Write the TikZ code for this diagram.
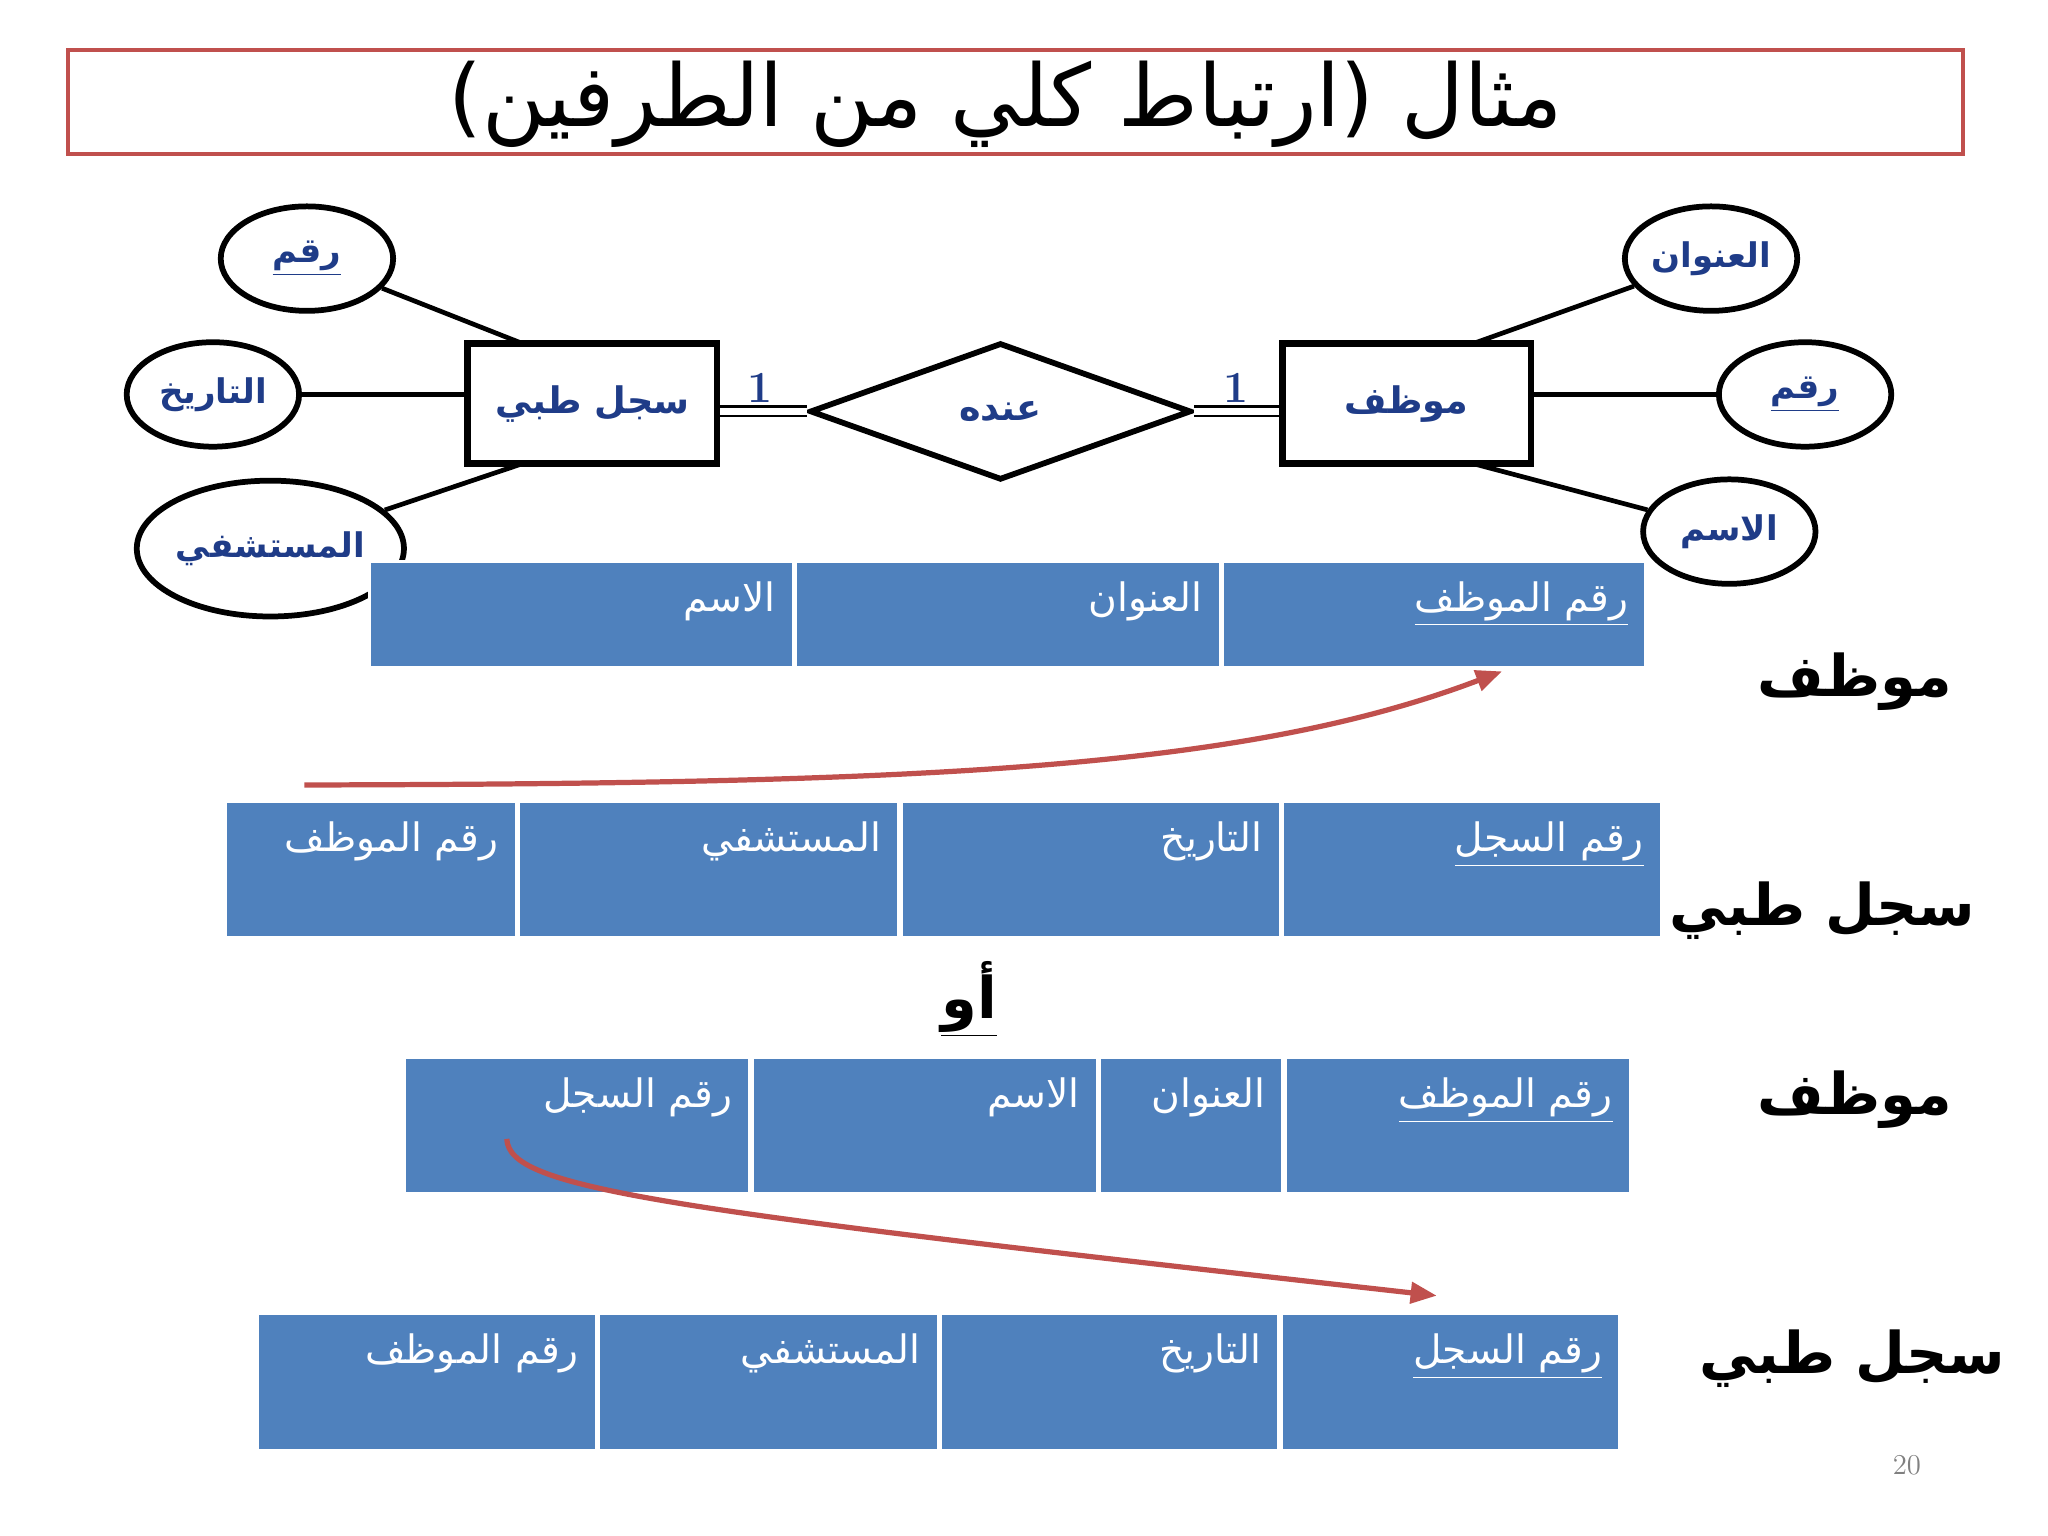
\documentclass[tikz,border=0pt]{standalone}
\usepackage{fontspec}
\TeXXeTstate=1
\newfontfamily\arabicfont[Script=Arabic]{DejaVu Sans}
\usetikzlibrary{shapes.geometric,arrows.meta}
\newcommand{\ar}[1]{{\arabicfont\beginR #1\endR}}
\newcommand{\uar}[1]{$\underline{\hbox{\arabicfont\beginR #1\endR}}$}
\definecolor{dblue}{HTML}{1F3C88}
\definecolor{cblue}{HTML}{4F81BD}
\definecolor{rred}{HTML}{C0504D}
\tikzset{
 ent/.style={draw=black,line width=2.5pt,inner sep=0pt},
 att/.style={ellipse,draw=black,line width=2.2pt,inner sep=0pt,text=dblue,font=\fontsize{13}{16}\selectfont\bfseries},
 cellbox/.style={fill=cblue,draw=white,line width=1pt,inner sep=0pt},
 celltxt/.style={text=white,font=\fontsize{15}{18}\selectfont,anchor=north east,inner sep=0pt},
 biglab/.style={font=\fontsize{22}{26}\selectfont\bfseries,text=black},
 conn/.style={line width=1.8pt},
 redarr/.style={draw=rred,line width=2pt,-{Triangle[length=10pt,width=8pt]}}
}
\begin{document}
\begin{tikzpicture}[x=0.5pt,y=-0.5pt]
\useasboundingbox (0,0) rectangle (1568,1176);
\fill[white] (0,0) rectangle (1568,1176);
% title
\node[draw=rred,line width=1.5pt,minimum width=725.5pt,minimum height=40pt,inner sep=0pt] (title) at (777.5,78) {};
\node[font=\fontsize{33}{40}\selectfont] (tt) at (770,80) {\ar{مثال (ارتباط كلي من الطرفين)}};
% entities
\node[ent,minimum width=95.5pt,minimum height=46pt,text=dblue,font=\fontsize{14}{17}\selectfont\bfseries] (sj) at (453.5,309) {\ar{سجل طبي}};
\node[ent,minimum width=95pt,minimum height=46pt,text=dblue,font=\fontsize{14}{17}\selectfont\bfseries] (mw) at (1077,309) {\ar{موظف}};
\node[diamond,draw=black,line width=2.2pt,minimum width=146pt,minimum height=52.5pt,inner sep=0pt,aspect=2.8,text=dblue,font=\fontsize{14}{17}\selectfont\bfseries] (rel) at (766,315) {\ar{عنده}};
\draw[line width=0.8pt,double distance=3pt] (sj.east|-rel) -- (rel.west);
\draw[line width=0.8pt,double distance=3pt] (rel.east) -- (mw.west|-rel);
\node[font=\fontsize{17}{20}\selectfont\bfseries,text=dblue] (one1) at (582,297) {1};
\node[font=\fontsize{17}{20}\selectfont\bfseries,text=dblue] (one2) at (946,297) {1};
% attributes
\node[att,minimum width=66pt,minimum height=40pt] (a1) at (235,198) {\uar{رقم}};
\node[att,minimum width=66pt,minimum height=40pt] (a2) at (163,302) {\ar{التاريخ}};
\node[att,minimum width=78pt,minimum height=52pt] (a3) at (207,420) {\ar{المستشفي}};
\node[att,minimum width=66pt,minimum height=40pt] (b1) at (1310,198) {\ar{العنوان}};
\node[att,minimum width=66pt,minimum height=40pt] (b2) at (1382,302) {\uar{رقم}};
\node[att,minimum width=66pt,minimum height=40pt] (b3) at (1324,407) {\ar{الاسم}};
\coordinate (s1) at (400,263); \coordinate (s3) at (400,355);
\coordinate (m1) at (1128,263); \coordinate (m3) at (1128,355);
\draw[conn] (a1) -- (s1);
\draw[conn] (a2) -- (sj.west|-a2);
\draw[conn] (a3) -- (s3);
\draw[conn] (b1) -- (m1);
\draw[conn] (b2) -- (mw.east|-b2);
\draw[conn] (b3) -- (m3);
% table 1
\node[cellbox,minimum width=162pt,minimum height=40.5pt] (t1a) at (445,470.5) {};
\node[cellbox,minimum width=162.5pt,minimum height=40.5pt] (t1b) at (771.5,470.5) {};
\node[cellbox,minimum width=162pt,minimum height=40.5pt] (t1c) at (1098,470.5) {};
\node[celltxt] at ([shift={(-14,16)}]t1a.north east) {\ar{الاسم}};
\node[celltxt] at ([shift={(-14,16)}]t1b.north east) {\ar{العنوان}};
\node[celltxt] at ([shift={(-14,16)}]t1c.north east) {\uar{رقم الموظف}};
\node[biglab] (l1) at (1420,522) {\ar{موظف}};
\coordinate (r1s) at (233,601);
\coordinate (r1e) at (1150,514);
\draw[redarr] (r1s) .. controls (700,600) and (950,590) .. (r1e);
% table 2
\node[cellbox,minimum width=111pt,minimum height=52pt] (t2a) at (284,666) {};
\node[cellbox,minimum width=145.5pt,minimum height=52pt] (t2b) at (542.5,666) {};
\node[cellbox,minimum width=145pt,minimum height=52pt] (t2c) at (835,666) {};
\node[cellbox,minimum width=145pt,minimum height=52pt] (t2d) at (1127,666) {};
\node[celltxt] at ([shift={(-14,16)}]t2a.north east) {\ar{رقم الموظف}};
\node[celltxt] at ([shift={(-14,16)}]t2b.north east) {\ar{المستشفي}};
\node[celltxt] at ([shift={(-14,16)}]t2c.north east) {\ar{التاريخ}};
\node[celltxt] at ([shift={(-14,16)}]t2d.north east) {\uar{رقم السجل}};
\node[biglab] (l2) at (1395,697) {\ar{سجل طبي}};
\node[biglab] (or) at (742,765) {\uar{أو}};
% table 3
\node[cellbox,minimum width=132pt,minimum height=52pt] (t3a) at (442,862) {};
\node[cellbox,minimum width=132pt,minimum height=52pt] (t3b) at (708,862) {};
\node[cellbox,minimum width=70pt,minimum height=52pt] (t3c) at (912,862) {};
\node[cellbox,minimum width=132pt,minimum height=52pt] (t3d) at (1116,862) {};
\node[celltxt] at ([shift={(-14,16)}]t3a.north east) {\ar{رقم السجل}};
\node[celltxt] at ([shift={(-14,16)}]t3b.north east) {\ar{الاسم}};
\node[celltxt] at ([shift={(-14,16)}]t3c.north east) {\ar{العنوان}};
\node[celltxt] at ([shift={(-14,16)}]t3d.north east) {\uar{رقم الموظف}};
\node[biglab] (l3) at (1420,842) {\ar{موظف}};
\coordinate (r2s) at (388,872);
\coordinate (r2e) at (1100,992);
\draw[redarr] (r2s) .. controls (390,910) and (500,925) .. (r2e);
% table 4
\node[cellbox,minimum width=129.5pt,minimum height=52pt] (t4a) at (327,1058) {};
\node[cellbox,minimum width=130pt,minimum height=52pt] (t4b) at (588,1058) {};
\node[cellbox,minimum width=129.5pt,minimum height=52pt] (t4c) at (849.5,1058) {};
\node[cellbox,minimum width=129.5pt,minimum height=52pt] (t4d) at (1110.5,1058) {};
\node[celltxt] at ([shift={(-14,16)}]t4a.north east) {\ar{رقم الموظف}};
\node[celltxt] at ([shift={(-14,16)}]t4b.north east) {\ar{المستشفي}};
\node[celltxt] at ([shift={(-14,16)}]t4c.north east) {\ar{التاريخ}};
\node[celltxt] at ([shift={(-14,16)}]t4d.north east) {\uar{رقم السجل}};
\node[biglab] (l4) at (1418,1040) {\ar{سجل طبي}};
\node[text=gray,font=\fontsize{11}{13}\selectfont] (pg) at (1460,1122) {20};
\end{tikzpicture}
\end{document}
